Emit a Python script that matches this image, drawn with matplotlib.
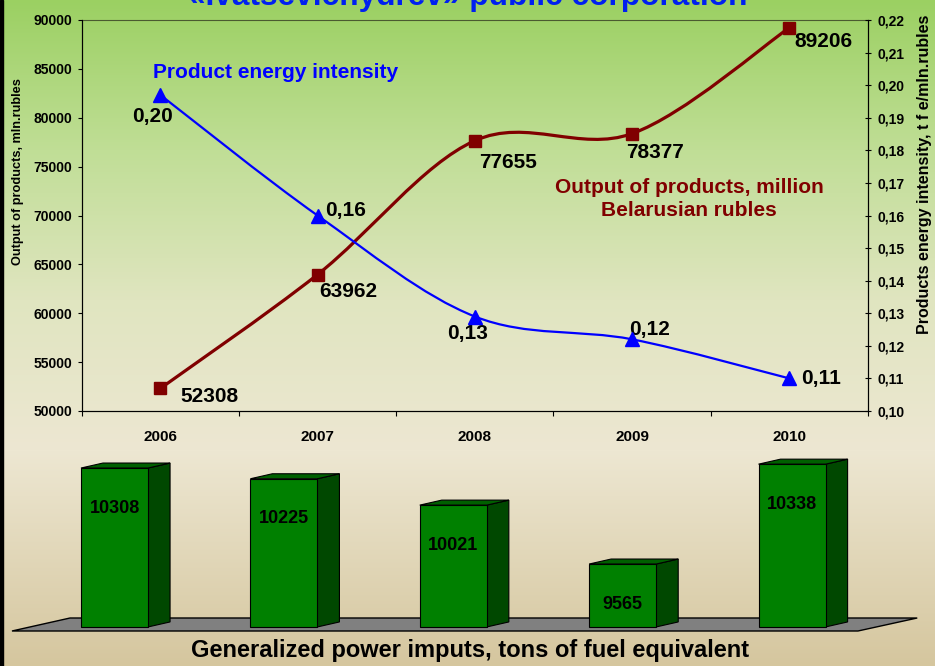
import numpy as np
import matplotlib
matplotlib.use('Agg')
import matplotlib.pyplot as plt
from matplotlib.path import Path
from matplotlib.patches import PathPatch, Polygon, Rectangle
from matplotlib.ticker import FuncFormatter

# data
years = ['2006', '2007', '2008', '2009', '2010']
output = [52308, 63962, 77655, 78377, 89206]            # mln rubles
intensity = [0.197, 0.160, 0.129, 0.122, 0.110]         # t f e / mln rubles
intensity_labels = ['0,20', '0,16', '0,13', '0,12', '0,11']
power = [10308, 10225, 10021, 9565, 10338]              # tons of fuel equivalent
power_base = 9078                                       # value at the floor of the bar panel

plt.rcParams['font.family'] = ['Liberation Sans', 'DejaVu Sans']
plt.rcParams['font.weight'] = 'bold'

W, H = 935, 666
fig = plt.figure(figsize=(W / 100, H / 100), dpi=100)


def fx(px):
    return px / W


def fy(py):
    return 1 - py / H


def smooth_path(xs, ys):
    # Excel-like smoothed line: cubic bezier through every point
    pts = np.column_stack([np.asarray(xs, float), np.asarray(ys, float)])
    n = len(pts)
    verts = [pts[0]]
    codes = [Path.MOVETO]
    for i in range(n - 1):
        p_prev = pts[i - 1] if i > 0 else pts[i]
        p_next = pts[i + 2] if i + 2 < n else pts[i + 1]
        c1 = pts[i] + (pts[i + 1] - p_prev) / 6
        c2 = pts[i + 1] - (p_next - pts[i]) / 6
        verts += [c1, c2, pts[i + 1]]
        codes += [Path.CURVE4] * 3
    return Path(verts, codes)


# background gradient (green at top, beige at bottom)
bg = fig.add_axes([0, 0, 1, 1], zorder=-10)
stops_y = [0, 150, 300, 450, 666]
stops_c = np.array([[155, 208, 98], [192, 222, 150], [224, 229, 192],
                    [237, 231, 210], [213, 198, 158]]) / 255
rows = np.arange(H)
grad = np.stack([np.interp(rows, stops_y, stops_c[:, k]) for k in range(3)], axis=1)
bg.imshow(grad[:, None, :], aspect='auto', extent=[0, 1, 0, 1])
bg.add_patch(Rectangle((0, 0), 3 / W, 1, transform=bg.transAxes, color='black'))
bg.axis('off')

# upper panel: output (left axis) and energy intensity (right axis)
ax = fig.add_axes([fx(81.7), fy(411), (868 - 81.7) / W, (411 - 20) / H])
ax.patch.set_visible(False)
x = np.arange(len(years))
ax.set_xlim(-0.5, len(years) - 0.5)
ax.set_ylim(50000, 90000)
ax.set_yticks(np.arange(50000, 90001, 5000))
ax.set_xticks(np.arange(-0.5, len(years), 1))
ax.set_xticklabels([])
ax.set_xticks(x, minor=True)
ax.set_xticklabels(years, minor=True)
ax.tick_params(axis='x', which='minor', length=0, pad=14, labelsize=11)
ax.tick_params(axis='x', which='major', length=3.5, direction='out')
ax.tick_params(axis='y', labelsize=10, length=3, pad=4, direction='out')
ax.spines['top'].set_color('#4a5a30')

ax2 = ax.twinx()
ax2.set_ylim(0.10, 0.22)
ax2.set_yticks(np.linspace(0.10, 0.22, 13))
ax2.yaxis.set_major_formatter(FuncFormatter(lambda v, p: f'{v:.2f}'.replace('.', ',')))
ax2.tick_params(axis='y', direction='inout', length=5, labelsize=10, pad=4)
ax2.spines['top'].set_visible(False)

red = '#800000'
blue = '#0000ff'
ax.add_patch(PathPatch(smooth_path(x, output), fill=False, ec=red, lw=2.3, zorder=3))
ax.plot(x, output, 's', color=red, ms=9, zorder=4)
ax2.add_patch(PathPatch(smooth_path(x, intensity), fill=False, ec=blue, lw=1.6, zorder=3))
ax2.plot(x, intensity, '^', color=blue, ms=9.5, zorder=4)

out_off = [(20, -8), (2, -17), (4, -22), (-6, -19), (5, -14)]
for i, v in enumerate(output):
    ax.annotate(str(v), (x[i], v), xytext=out_off[i], textcoords='offset pixels',
                ha='left', va='center', fontsize=15)
int_off = [(-28, -22), (8, 5), (-28, -17), (-3, 10), (12, 0)]
for i, v in enumerate(intensity):
    ax2.annotate(intensity_labels[i], (x[i], v), xytext=int_off[i], textcoords='offset pixels',
                 ha='left', va='center', fontsize=15)

fig.text(fx(153), fy(72), 'Product energy intensity', color=blue, fontsize=15,
         ha='left', va='center')
fig.text(fx(689), fy(199), 'Output of products, million\nBelarusian rubles', color=red,
         fontsize=15, ha='center', va='center', linespacing=1.3)
fig.text(fx(18), fy(172), 'Output of products, mln.rubles', rotation=90,
         ha='center', va='center', fontsize=9.2)
fig.text(fx(925), fy(174), 'Products energy intensity, t f e/mln.rubles', rotation=90,
         ha='center', va='center', fontsize=11.5)
fig.text(fx(468), fy(5), '«Ivatsevichydrev» public corporation', ha='center',
         va='baseline', color='#0020f0', fontsize=22.8)

# lower panel: pseudo-3D bars of power inputs
axb = fig.add_axes([0, fy(640), 1, 200 / H])
axb.set_xlim(-0.676, 4.844)
axb.set_ylim(8977, 10525)
axb.axis('off')

floor = Polygon([(0.0128, 0.045), (0.9176, 0.045), (0.981, 0.11), (0.0749, 0.11)],
                closed=True, transform=axb.transAxes, fc='#808080', ec='black', lw=1, zorder=1)
axb.add_patch(floor)

bars = axb.bar(x, np.array(power) - power_base, bottom=power_base, width=0.396,
               color='#008000', ec='black', lw=0.8, zorder=3)
dx, dy = 0.13, 38.7
for b in bars:
    x0, w = b.get_x(), b.get_width()
    y0, y1 = b.get_y(), b.get_y() + b.get_height()
    side = Polygon([(x0 + w, y0), (x0 + w, y1), (x0 + w + dx, y1 + dy), (x0 + w + dx, y0 + dy)],
                   closed=True, fc='#004800', ec='black', lw=0.8, zorder=2)
    top = Polygon([(x0, y1), (x0 + w, y1), (x0 + w + dx, y1 + dy), (x0 + dx, y1 + dy)],
                  closed=True, fc='#006000', ec='black', lw=0.8, zorder=2)
    axb.add_patch(side)
    axb.add_patch(top)

for i, v in enumerate(power):
    axb.annotate(str(v), (x[i], v), xytext=(0, -40), textcoords='offset pixels',
                 ha='center', va='center', fontsize=13)

fig.text(fx(470), fy(651), 'Generalized power imputs, tons of fuel equivalent',
         ha='center', va='center', fontsize=17)

fig.savefig('out.png', dpi=100)
